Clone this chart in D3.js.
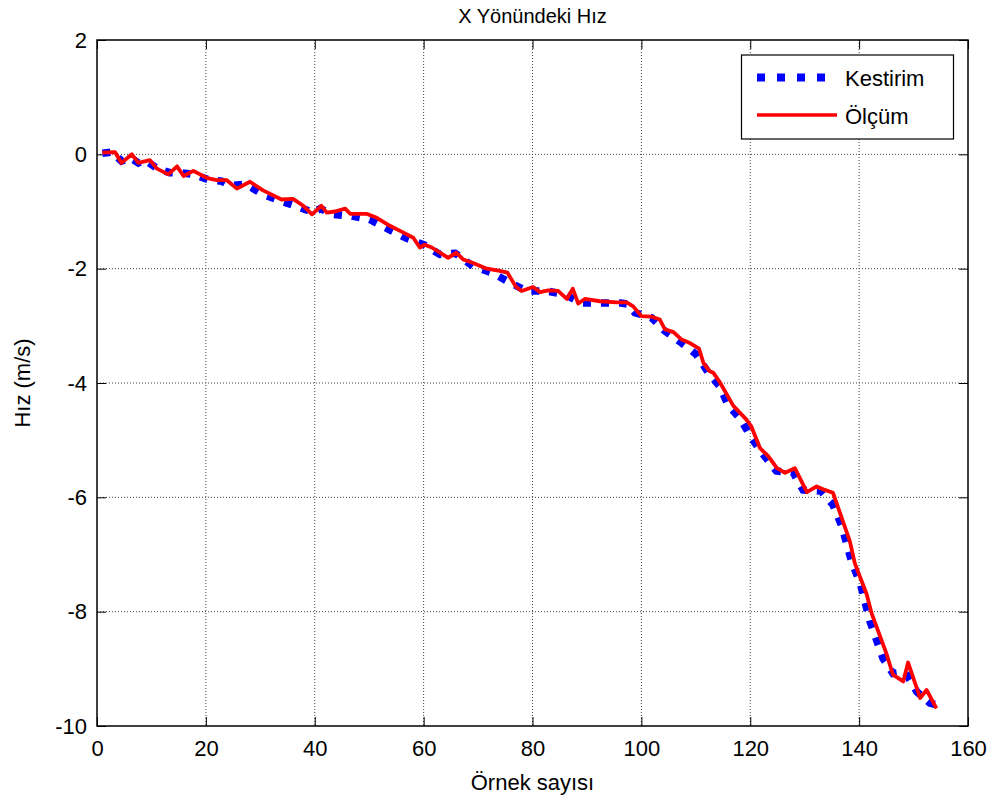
<!DOCTYPE html>
<html>
<head>
<meta charset="utf-8">
<script src="https://cdn.jsdelivr.net/npm/d3@7"></script>
<style>
  html, body { margin: 0; padding: 0; background: #fff; }
  svg text { font-family: "Liberation Sans", Arial, sans-serif; fill: #000; }
</style>
</head>
<body>
<svg id="chart" width="995" height="807"></svg>
<script>
// Estimated velocity (Kestirim) readings: sample index and value
const estSample = [1, 2.8, 4.5, 6.1, 7.6, 8.8, 11.3, 13.4, 15.2, 17.7, 20.4, 22.9, 24.4, 27.2, 30.5, 33.9, 37.3, 39.7, 41, 43.4, 46.8, 50.1, 53.5, 56.9, 60, 63, 65.8, 69.1, 72.5, 75.4, 78.9, 82.6, 85.9, 89, 92.4, 96.3, 97.4, 98.8, 101.9, 104.3, 107.4, 110.1, 112.3, 114.4, 115.9, 118.3, 120.2, 122.4, 124.8, 127.9, 129.7, 133, 135.2, 136.8, 138.7, 140.2, 142, 144.4, 146.2, 148.4, 150.6, 153, 155.3];
const estValue = [0.02, 0.04, -0.12, -0.06, -0.15, -0.1, -0.26, -0.32, -0.32, -0.35, -0.44, -0.47, -0.55, -0.52, -0.7, -0.82, -0.93, -1.02, -0.95, -1.05, -1.08, -1.14, -1.31, -1.47, -1.58, -1.75, -1.73, -1.96, -2.07, -2.22, -2.39, -2.39, -2.45, -2.6, -2.6, -2.6, -2.62, -2.77, -2.86, -3.09, -3.3, -3.5, -3.82, -4.06, -4.38, -4.64, -4.96, -5.25, -5.54, -5.57, -5.87, -5.89, -6.13, -6.5, -7.15, -7.5, -8.17, -8.82, -9.08, -9.05, -9.4, -9.6, -9.66];

// Measured velocity (Ölçüm) readings
const measSample = [1, 3.3, 4.5, 6.4, 7.6, 9.7, 11, 13.1, 14.7, 15.9, 17.7, 20.1, 22, 23.8, 25.7, 28.1, 30.5, 33.9, 36, 37.9, 39.5, 41.2, 42.2, 43.7, 45.6, 46.5, 49.5, 51.4, 53.8, 56.3, 58.1, 59.3, 60.2, 61.5, 63, 64.5, 66, 67.3, 69.1, 71.6, 74, 75.4, 76.9, 78, 80.1, 81.4, 82.9, 84.7, 86.3, 87.4, 88.4, 89.6, 92.4, 95.5, 97.3, 98.5, 100, 101.9, 103.4, 104.3, 105.9, 107.4, 108.7, 110.6, 111.4, 112.5, 113.2, 114.3, 116.9, 119.3, 120.2, 121.8, 123.3, 124.9, 126.4, 128.2, 130.4, 132.2, 133.7, 135.2, 136.8, 138.3, 139.2, 141.4, 142.3, 145, 146.2, 148.1, 149, 151.2, 152.4, 154.2];
const measValue = [0.03, 0.04, -0.15, 0.0, -0.15, -0.1, -0.25, -0.35, -0.21, -0.38, -0.29, -0.41, -0.45, -0.45, -0.6, -0.48, -0.63, -0.79, -0.78, -0.9, -1.05, -0.9, -1.02, -1.0, -0.95, -1.04, -1.04, -1.11, -1.25, -1.37, -1.46, -1.63, -1.58, -1.63, -1.72, -1.81, -1.72, -1.84, -1.9, -2.0, -2.04, -2.07, -2.31, -2.39, -2.32, -2.41, -2.38, -2.39, -2.53, -2.35, -2.61, -2.53, -2.57, -2.59, -2.59, -2.66, -2.83, -2.84, -2.89, -3.06, -3.11, -3.24, -3.29, -3.4, -3.65, -3.79, -3.82, -3.97, -4.4, -4.64, -4.76, -5.14, -5.28, -5.49, -5.57, -5.49, -5.91, -5.81, -5.87, -5.92, -6.36, -6.77, -7.15, -7.7, -8.03, -8.73, -9.1, -9.22, -8.89, -9.51, -9.37, -9.69];

const xTicks = [0, 20, 40, 60, 80, 100, 120, 140, 160];
const yTicks = [2, 0, -2, -4, -6, -8, -10];
const seriesNames = ["Kestirim", "Ölçüm"];
const titleText = "X Yönündeki Hız";
const xLabelText = "Örnek sayısı";
const yLabelText = "Hız (m/s)";

const svg = d3.select("#chart");
const plotLeft = 97, plotRight = 968, plotTop = 40, plotBottom = 726;

const x = d3.scaleLinear().domain([0, 160]).range([plotLeft, plotRight]);
const y = d3.scaleLinear().domain([-10, 2]).range([plotBottom, plotTop]);

// Plain hyphen-minus tick labels
const plainFmt = d => String(d);

// Grid lines
const grid = svg.append("g").attr("stroke", "#444").attr("stroke-width", 1)
  .attr("stroke-dasharray", "1,2").attr("fill", "none");
xTicks.slice(1, -1).forEach(t => {
  grid.append("line").attr("x1", x(t)).attr("x2", x(t)).attr("y1", plotTop).attr("y2", plotBottom);
});
yTicks.slice(1, -1).forEach(t => {
  grid.append("line").attr("x1", plotLeft).attr("x2", plotRight).attr("y1", y(t)).attr("y2", y(t));
});

// Axes on all four sides, ticks pointing inward
const tickLen = 9;
svg.append("g").attr("transform", `translate(0,${plotBottom})`)
  .call(d3.axisBottom(x).tickValues(xTicks).tickFormat(plainFmt)
    .tickSizeInner(-tickLen).tickSizeOuter(0).tickPadding(14))
  .call(g => g.select(".domain").remove());
svg.append("g").attr("transform", `translate(0,${plotTop})`)
  .call(d3.axisTop(x).tickValues(xTicks).tickSizeInner(-tickLen).tickSizeOuter(0).tickFormat(""))
  .call(g => g.select(".domain").remove());
svg.append("g").attr("transform", `translate(${plotLeft},0)`)
  .call(d3.axisLeft(y).tickValues(yTicks).tickFormat(plainFmt)
    .tickSizeInner(-tickLen).tickSizeOuter(0).tickPadding(10))
  .call(g => g.select(".domain").remove());
svg.append("g").attr("transform", `translate(${plotRight},0)`)
  .call(d3.axisRight(y).tickValues(yTicks).tickSizeInner(-tickLen).tickSizeOuter(0).tickFormat(""))
  .call(g => g.select(".domain").remove());

svg.selectAll(".tick line").attr("stroke", "#000").attr("stroke-width", 1);
svg.selectAll(".tick text").attr("font-size", 22)
  .attr("font-family", "Liberation Sans, Arial, sans-serif").attr("fill", "#000");

// Data lines
const line = d3.line().x(d => x(d[0])).y(d => y(d[1]));
const estData = estSample.map((s, i) => [s, estValue[i]]);
const measData = measSample.map((s, i) => [s, measValue[i]]);

svg.append("path").datum(estData).attr("d", line)
  .attr("fill", "none").attr("stroke", "#0000ff").attr("stroke-width", 7.5)
  .attr("stroke-dasharray", "8,10").attr("stroke-linejoin", "miter");
svg.append("path").datum(measData).attr("d", line)
  .attr("fill", "none").attr("stroke", "#ff0000").attr("stroke-width", 3.8)
  .attr("stroke-linejoin", "round");

// Plot box
svg.append("rect").attr("x", plotLeft).attr("y", plotTop)
  .attr("width", plotRight - plotLeft).attr("height", plotBottom - plotTop)
  .attr("fill", "none").attr("stroke", "#000").attr("stroke-width", 1.5);

// Legend
const lg = svg.append("g");
lg.append("rect").attr("x", 741.5).attr("y", 55).attr("width", 212).attr("height", 84)
  .attr("fill", "#fff").attr("stroke", "#000").attr("stroke-width", 1.2);
lg.append("line").attr("x1", 757).attr("x2", 837).attr("y1", 77.5).attr("y2", 77.5)
  .attr("stroke", "#0000ff").attr("stroke-width", 8).attr("stroke-dasharray", "8,12");
lg.append("line").attr("x1", 757).attr("x2", 837).attr("y1", 115).attr("y2", 115)
  .attr("stroke", "#ff0000").attr("stroke-width", 3.5);
lg.append("text").attr("x", 845).attr("y", 86).attr("font-size", 22).text(seriesNames[0]);
lg.append("text").attr("x", 845).attr("y", 124).attr("font-size", 22).text(seriesNames[1]);

// Titles
svg.append("text").attr("x", (plotLeft + plotRight) / 2).attr("y", 23).attr("text-anchor", "middle")
  .attr("font-size", 20).text(titleText);
svg.append("text").attr("x", (plotLeft + plotRight) / 2).attr("y", 790).attr("text-anchor", "middle")
  .attr("font-size", 22).text(xLabelText);
svg.append("text").attr("transform", `translate(30,${(plotTop + plotBottom) / 2}) rotate(-90)`)
  .attr("text-anchor", "middle").attr("font-size", 22).text(yLabelText);
</script>
</body>
</html>
